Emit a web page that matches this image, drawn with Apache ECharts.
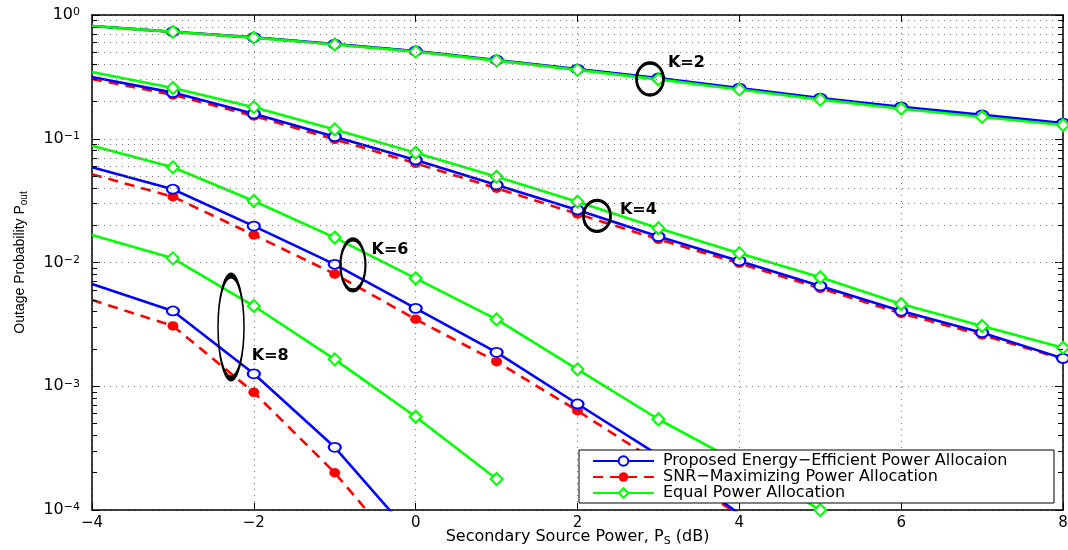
<!DOCTYPE html>
<html>
<head>
<meta charset="utf-8">
<script src="https://cdn.jsdelivr.net/npm/echarts@6/dist/echarts.min.js"></script>
<style>html,body{margin:0;padding:0;background:#fff}#chart{width:1068px;height:550px}</style>
</head>
<body>
<div id="chart"></div>
<script>
// ---------- data ----------
const xValues = [-4, -3, -2, -1, 0, 1, 2, 3, 4, 5, 6, 7, 8];
const seriesNames = ['Proposed Energy\u2212Efficient Power Allocaion', 'SNR\u2212Maximizing Power Allocation', 'Equal Power Allocation'];

// K = 2
const eeK2  = [0.815, 0.733, 0.660, 0.583, 0.512, 0.433, 0.366, 0.310, 0.257, 0.213, 0.181, 0.156, 0.134];
const snrK2 = [0.812, 0.730, 0.657, 0.580, 0.509, 0.430, 0.363, 0.307, 0.254, 0.211, 0.178, 0.153, 0.132];
const eqK2  = [0.815, 0.731, 0.656, 0.578, 0.506, 0.428, 0.360, 0.302, 0.250, 0.207, 0.175, 0.150, 0.129];
// K = 4
const eeK4  = [0.315, 0.236, 0.159, 0.104, 0.0674, 0.0423, 0.0266, 0.0162, 0.0103, 0.00646, 0.00405, 0.00271, 0.00168];
const snrK4 = [0.304, 0.226, 0.153, 0.0990, 0.0633, 0.0398, 0.0247, 0.0154, 0.00986, 0.00619, 0.00388, 0.00260, 0.00166];
const eqK4  = [0.346, 0.257, 0.180, 0.119, 0.0771, 0.0493, 0.0310, 0.0189, 0.0119, 0.00759, 0.00462, 0.00307, 0.00205];
// K = 6
const eeK6  = [0.0588, 0.0391, 0.0197, 0.00967, 0.00426, 0.00188, 0.000719, 0.000278, 0.000093];
const snrK6 = [0.0516, 0.0340, 0.0167, 0.00807, 0.00348, 0.00158, 0.000634, 0.000240, 0.0000912];
const eqK6  = [0.0879, 0.0588, 0.0314, 0.0159, 0.00745, 0.00347, 0.00137, 0.000541, 0.000240, 0.0001];
// K = 8
const eeK8  = [0.00670, 0.00406, 0.00126, 0.000321, 0.0000573];
const snrK8 = [0.00498, 0.00307, 0.000893, 0.000200, 0.0000340];
const eqK8  = [0.0167, 0.0108, 0.00445, 0.00165, 0.000567, 0.000178];

// tick values
const xTickValues = [-4, -2, 0, 2, 4, 6, 8];
const yDecades = [1e-4, 1e-3, 1e-2, 1e-1, 1];
const yMinorTicks = [];
for (let k = -4; k <= -1; k++) {
  for (let m = 2; m <= 9; m++) yMinorTicks.push(+(m * Math.pow(10, k)).toPrecision(3));
}

// annotations: label, anchor x, anchor y (data units)
const annLabels = ['K=2', 'K=4', 'K=6', 'K=8'];
const annX = [2.896, 2.241, -0.775, -2.282];
const annY = [0.304, 0.0238, 0.00955, 0.00301];

// ---------- styling ----------
const FONT = 'DejaVu Sans';
const BLUE = '#0000ff', RED = '#ff0000', GREEN = '#00ff00';
const annSizes = [[27, 32], [27, 31], [25, 51], [26, 103]];
const annOffsets = [[-2, -16], [3, -6], [0, -15], [2, 29]];

function toData(vals) {
  return vals.map((v, i) => i === 0 ? { value: [xValues[i], v], symbol: 'none' } : [xValues[i], v]);
}
function mk(nameIdx, vals) {
  const base = {
    name: seriesNames[nameIdx], type: 'line', data: toData(vals),
    clip: true, silent: true, animation: false,
    emphasis: { disabled: true }
  };
  if (nameIdx === 0) {
    Object.assign(base, { z: 3, symbol: 'emptyCircle', symbolSize: [12, 9], showAllSymbol: true,
      lineStyle: { color: BLUE, width: 2.6 }, itemStyle: { color: BLUE, borderColor: BLUE, borderWidth: 2.2 } });
  } else if (nameIdx === 1) {
    Object.assign(base, { z: 2, symbol: 'circle', symbolSize: [11, 9.5], showAllSymbol: true,
      lineStyle: { color: RED, width: 2.6, type: [10, 7] }, itemStyle: { color: RED } });
  } else {
    Object.assign(base, { z: 4, symbol: 'emptyDiamond', symbolSize: [12, 12], showAllSymbol: true,
      lineStyle: { color: GREEN, width: 2.6 }, itemStyle: { color: GREEN, borderColor: GREEN, borderWidth: 2.2 } });
  }
  return base;
}

const dx = 5 / 80.9;
const gridMarks = [];
yMinorTicks.forEach(v => gridMarks.push({ yAxis: v }));
const tickMarks = [];
yMinorTicks.forEach(v => {
  tickMarks.push([{ coord: [-4, v] }, { coord: [-4 + dx, v] }]);
  tickMarks.push([{ coord: [8 - dx, v] }, { coord: [8, v] }]);
});

const dotted = { color: '#777', width: 1, type: [1, 5] };

const gridHelper = {
  name: 'grid', type: 'line', data: [], z: 1, silent: true, animation: false,
  markLine: {
    silent: true, symbol: ['none', 'none'], label: { show: false }, animation: false,
    emphasis: { disabled: true },
    lineStyle: dotted,
    data: gridMarks
  }
};
const tickHelper = {
  name: 'ticks', type: 'line', data: [], z: 6, silent: true, animation: false,
  markLine: {
    silent: true, symbol: ['none', 'none'], label: { show: false }, animation: false,
    emphasis: { disabled: true },
    lineStyle: { color: '#000', width: 1, type: 'solid' },
    data: tickMarks
  }
};
const annHelper = {
  name: 'ann', type: 'line', data: [], z: 7, silent: true, animation: false,
  markPoint: {
    silent: true, animation: false,
    data: annLabels.map((t, i) => ({
      coord: [annX[i], annY[i]],
      symbol: 'circle', symbolSize: annSizes[i],
      itemStyle: { color: 'rgba(0,0,0,0)', borderColor: '#000', borderWidth: 3 },
      label: { show: true, formatter: t, position: 'right', distance: 5, offset: annOffsets[i],
        color: '#000', fontFamily: FONT, fontWeight: 'bold', fontSize: 16 }
    }))
  }
};

const series = [
  mk(1, snrK2), mk(0, eeK2), mk(2, eqK2),
  mk(1, snrK4), mk(0, eeK4), mk(2, eqK4),
  mk(1, snrK6), mk(0, eeK6), mk(2, eqK6),
  mk(1, snrK8), mk(0, eeK8), mk(2, eqK8),
  gridHelper, tickHelper, annHelper
];

const axisLineStyle = { show: true, onZero: false, lineStyle: { color: '#000', width: 1.5 } };
const minusFmt = v => (v < 0 ? '\u2212' + (-v) : String(v));

const option = {
  animation: false,
  backgroundColor: '#fff',
  grid: { left: 92, right: 5, top: 15, bottom: 40, containLabel: false, outerBoundsMode: 'none' },
  legend: {
    data: seriesNames, z: 20, zlevel: 0,
    orient: 'vertical', left: 579, top: 450,
    backgroundColor: '#fff', borderColor: '#000', borderWidth: 1, borderRadius: 0,
    padding: [3, 6, 2, 13], itemGap: 0, itemWidth: 61, itemHeight: 12,
    selectedMode: false,
    textStyle: { fontFamily: FONT, fontSize: 16, color: '#000', lineHeight: 16, width: 385, padding: [0, 0, 0, 4] }
  },
  xAxis: [{
    type: 'value', min: -4, max: 8, interval: 2,
    name: '{n|Secondary Source Power, P}{sub|S}{n| (dB)}',
    nameLocation: 'middle', nameGap: 19, nameMoveOverlap: false,
    nameTextStyle: { color: '#000', fontFamily: FONT,
      rich: { n: { fontFamily: FONT, fontSize: 16, lineHeight: 18, verticalAlign: 'top', color: '#000' },
              sub: { fontFamily: FONT, fontSize: 11, lineHeight: 11, padding: [8, 0, 0, 0], verticalAlign: 'bottom', color: '#000' } } },
    axisLine: axisLineStyle,
    axisTick: { show: true, inside: true, length: 7, lineStyle: { color: '#000', width: 1 } },
    axisLabel: { color: '#000', fontFamily: FONT, fontSize: 15, margin: 6, formatter: minusFmt },
    splitLine: { show: true, lineStyle: dotted }
  }, {
    type: 'value', position: 'top', min: -4, max: 8, interval: 2,
    axisLine: axisLineStyle,
    axisTick: { show: true, inside: true, length: 7, lineStyle: { color: '#000', width: 1 } },
    axisLabel: { show: false }, splitLine: { show: false }
  }],
  yAxis: [{
    type: 'log', logBase: 10, min: 1e-4, max: 1, position: 'left',
    name: '{n|Outage Probability P}{sub|out}',
    nameLocation: 'middle', nameGap: 63, nameMoveOverlap: false,
    nameTextStyle: { color: '#000',
      rich: { n: { fontFamily: 'Liberation Sans', fontSize: 14, lineHeight: 16, verticalAlign: 'top', color: '#000' },
              sub: { fontFamily: 'Liberation Sans', fontSize: 10, lineHeight: 10, padding: [7, 0, 0, 0], verticalAlign: 'bottom', color: '#000' } } },
    axisLine: axisLineStyle,
    axisTick: { show: true, inside: true, length: 8, lineStyle: { color: '#000', width: 1 } },
    axisLabel: {
      color: '#000', margin: 12,
      formatter: v => {
        const e = Math.round(Math.log10(v));
        return '{b|10}{s|' + (e < 0 ? '\u2212' + (-e) : e) + '}';
      },
      rich: {
        b: { fontFamily: FONT, fontSize: 16, lineHeight: 16, padding: [2, 0, 0, 0], verticalAlign: 'bottom', color: '#000' },
        s: { fontFamily: FONT, fontSize: 11, lineHeight: 11, verticalAlign: 'top', color: '#000' }
      }
    },
    splitLine: { show: true, lineStyle: dotted }
  }, {
    type: 'log', logBase: 10, min: 1e-4, max: 1, position: 'right',
    axisLine: axisLineStyle,
    axisTick: { show: true, inside: true, length: 8, lineStyle: { color: '#000', width: 1 } },
    axisLabel: { show: false }, splitLine: { show: false }
  }],
  series: series
};

const chart = echarts.init(document.getElementById('chart'), null, { renderer: 'canvas' });
chart.setOption(option);
</script>
</body>
</html>
